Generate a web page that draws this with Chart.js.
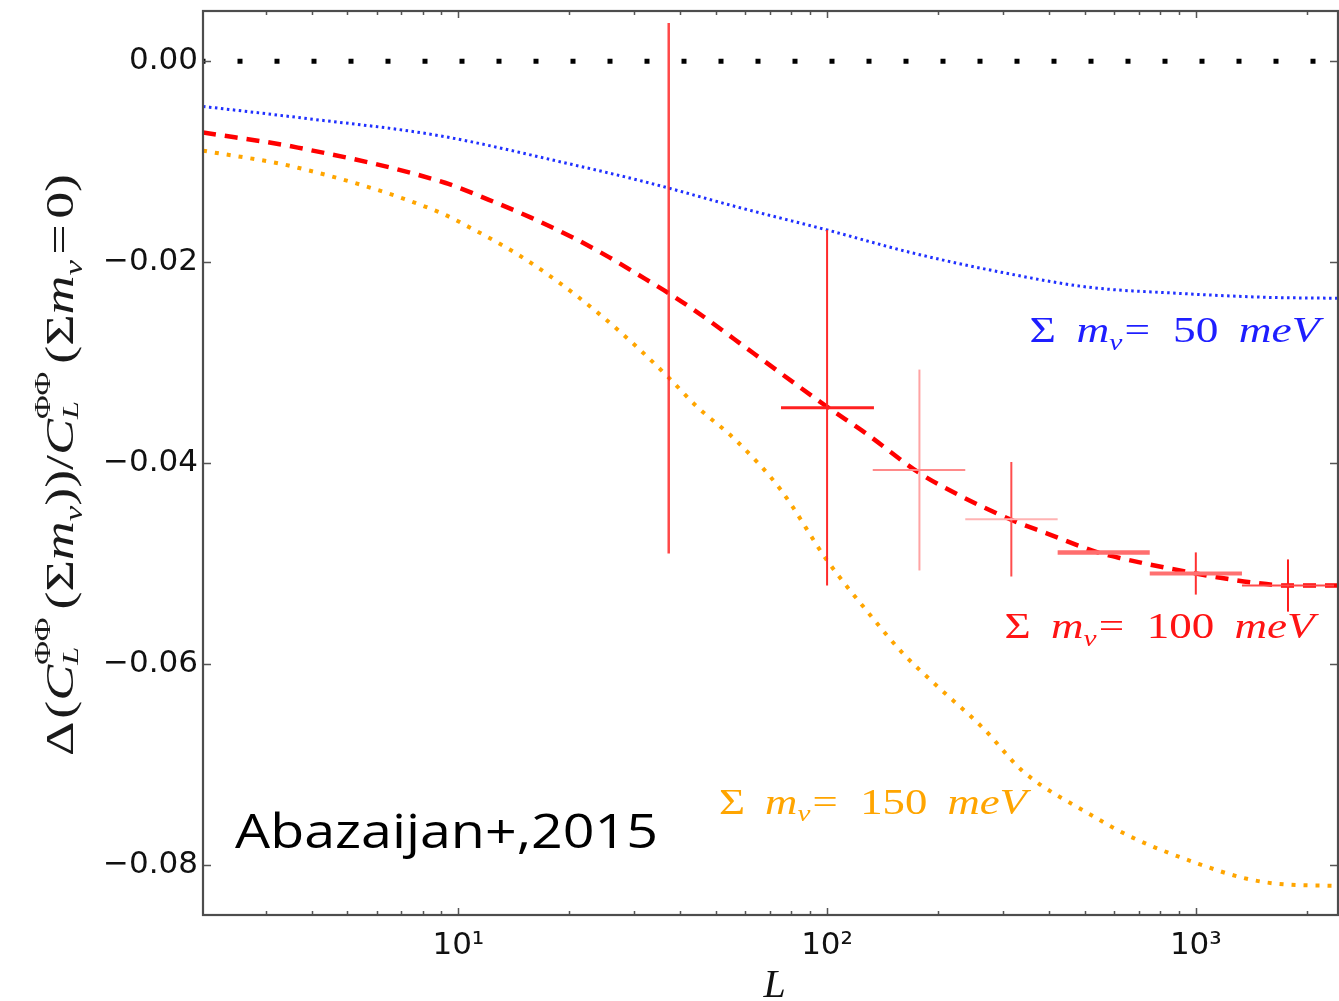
<!DOCTYPE html>
<html>
<head>
<meta charset="utf-8">
<script src="https://cdn.jsdelivr.net/npm/chart.js@4/dist/chart.umd.min.js"></script>
<style>
  html, body { margin: 0; padding: 0; background: #fff; overflow: hidden; }
  #wrap { width: 1339px; height: 1001px; }
</style>
</head>
<body>
<div id="wrap"><canvas id="c" width="1339" height="1001"></canvas></div>
<script>
// Multipole range shown on the log axis
const L_MIN = 2.03;
const L_MAX = 2430;

// Reference line: no change relative to massless neutrinos
const refL = [L_MIN, L_MAX];
const refV = [0, 0];

// Fractional change of the lensing power spectrum, sum of masses = 50 meV
const ell50 = [2.03, 3.67, 8.83, 19.9, 32.8, 56.9, 100, 171, 296, 512, 887, 1540, 2430];
const d50   = [-0.0045, -0.0056, -0.0074, -0.0102, -0.0121, -0.0145, -0.0168, -0.0191, -0.0210, -0.0225, -0.0231, -0.0235, -0.0236];

// sum of masses = 100 meV
const ell100 = [2.03, 3.67, 9.2, 12.1, 15.8, 20.3, 25.6, 32.2, 37.2, 44.1, 63.3, 100, 128, 178, 228, 318, 394, 542, 630, 1000, 1429, 1770, 2430];
const d100   = [-0.0071, -0.0086, -0.0121, -0.0138, -0.0156, -0.0175, -0.0195, -0.0217, -0.0231, -0.0249, -0.0291, -0.0344, -0.0371, -0.0410, -0.0432, -0.0457, -0.0470, -0.0489, -0.0495, -0.0510, -0.0519, -0.0522, -0.0522];

// sum of masses = 150 meV
const ell150 = [2.03, 3.67, 8.83, 10.8, 14.3, 18.7, 24.0, 30.8, 37.2, 44.1, 56.8, 75, 100, 130, 161, 196, 265, 340, 512, 674, 1017, 1343, 1671, 2430];
const d150   = [-0.0089, -0.0106, -0.0150, -0.0166, -0.0191, -0.0220, -0.0251, -0.0286, -0.0315, -0.0343, -0.0378, -0.0427, -0.0497, -0.0550, -0.0590, -0.0620, -0.0664, -0.0707, -0.0749, -0.0773, -0.0799, -0.0813, -0.0819, -0.0821];

// Forecast band powers (100 meV): centre, value, 1-sigma error, bin edges
const binL   = [37.2, 100, 178, 316, 562, 1000, 1778];
const binV   = [-0.0226, -0.0345, -0.0407, -0.0456, -0.0489, -0.0510, -0.0522];
const binErr = [0.0264, 0.0177, 0.0100, 0.0057, 0, 0.0021, 0.0026];
const binLo  = [null, 75, 133, 237, 422, 750, 1334];
const binHi  = [null, 134, 237, 422, 750, 1334, 2371];

// Axis ticks
const xMajor = [10, 100, 1000];
const yMajor = [-0.08, -0.06, -0.04, -0.02, 0];

// Curve labels
const massValues = ['50', '100', '150'];
const creditText = 'Abazaijan+,2015';

// ---- styling ----
const bandStyle = [
  { v: 'rgba(255,40,40,0.85)', vw: 2.5, h: null,      hw: 0 },
  { v: '#ff2a2a',              vw: 2,   h: '#ff2020', hw: 3 },
  { v: '#ffa3a3',              vw: 2,   h: '#ff8a8a', hw: 2 },
  { v: '#ff4d4d',              vw: 2,   h: '#ffb3b3', hw: 2 },
  { v: '#ff6a6a',              vw: 2,   h: '#ff6e6e', hw: 4.5 },
  { v: '#ff3030',              vw: 2,   h: '#ff7070', hw: 4 },
  { v: '#ff1a1a',              vw: 2,   h: '#ff4a4a', hw: 2 }
];

function pts(xs, ys) { return xs.map((x, i) => ({ x, y: ys[i] })); }

function curve(xs, ys, color, width, dash, offset) {
  return {
    data: pts(xs, ys), showLine: true, borderColor: color, borderWidth: width,
    borderDash: dash, borderDashOffset: offset || 0, borderCapStyle: 'butt',
    pointRadius: 0, fill: false, cubicInterpolationMode: 'monotone'
  };
}

const datasets = [];
// error bars of the band powers
binL.forEach((l, i) => {
  const s = bandStyle[i];
  if (binLo[i] !== null) {
    datasets.push({
      data: [{ x: binLo[i], y: binV[i] }, { x: binHi[i], y: binV[i] }],
      showLine: true, borderColor: s.h, borderWidth: s.hw, pointRadius: 0, tension: 0
    });
  }
  if (binErr[i] > 0) {
    datasets.push({
      data: [{ x: l, y: binV[i] - binErr[i] }, { x: l, y: binV[i] + binErr[i] }],
      showLine: true, borderColor: s.v, borderWidth: s.vw, pointRadius: 0, tension: 0
    });
  }
});
datasets.push(curve(refL, refV, '#000000', 5, [5, 32], 2.5));
datasets.push(curve(ell50, d50, '#2030ff', 3, [2.5, 3.5]));
datasets.push(curve(ell150, d150, '#ffa500', 4, [4, 8]));
datasets.push(curve(ell100, d100, '#ff0000', 4.5, [13, 9]));

// ---- rich text (sub/superscripts, italics) drawn on the canvas ----
function richLayout(ctx, parts, size, family) {
  const items = []; let x = 0;
  const font = (s, it) => `${it ? 'italic ' : ''}${s}px "${family}"`;
  for (const p of parts) {
    x += (p.dx || 0) * size;
    if (p.stack) {
      const s = size * 0.6;
      const f1 = font(s, false), f2 = font(s, true);
      ctx.font = f1; const w1 = ctx.measureText(p.stack[0]).width;
      ctx.font = f2; const w2 = ctx.measureText(p.stack[1]).width;
      items.push({ t: p.stack[0], x, dy: -0.58 * size, f: f1 });
      items.push({ t: p.stack[1], x, dy: 0.12 * size, f: f2 });
      x += Math.max(w1, w2);
    } else {
      const s = p.pos ? size * 0.65 : size;
      const f = font(s, !!p.i);
      ctx.font = f;
      const dy = p.pos === 'sub' ? 0.22 * size : (p.pos === 'sup' ? -0.45 * size : 0);
      items.push({ t: p.t, x, dy, f });
      x += ctx.measureText(p.t).width;
    }
  }
  return { items, width: x };
}

function richDraw(ctx, parts, o) {
  const lay = richLayout(ctx, parts, o.size, o.family);
  const hs = o.width ? o.width / lay.width : 1;
  ctx.save();
  ctx.translate(o.x, o.y);
  if (o.rotate) ctx.rotate(o.rotate);
  ctx.scale(hs, 1);
  const x0 = o.align === 'center' ? -lay.width / 2 : 0;
  ctx.fillStyle = o.color;
  ctx.textBaseline = 'alphabetic';
  ctx.textAlign = 'left';
  for (const it of lay.items) { ctx.font = it.f; ctx.fillText(it.t, x0 + it.x, it.dy); }
  ctx.restore();
}

const massParts = m => [
  { t: 'Σ' }, { t: 'm', i: 1, dx: 0.45 }, { t: 'ν', i: 1, pos: 'sub' },
  { t: '=', dx: 0.05 }, { t: m, dx: 0.5 }, { t: 'meV', i: 1, dx: 0.45 }
];

const yTitleParts = [
  { t: 'Δ' }, { t: '(', dx: 0.05 }, { t: 'C', i: 1 }, { stack: ['ΦΦ', 'L'] },
  { t: '(', dx: 0.15 }, { t: 'Σ' }, { t: 'm', i: 1 }, { t: 'ν', i: 1, pos: 'sub' },
  { t: ')' }, { t: ')' }, { t: '/' }, { t: 'C', i: 1 }, { stack: ['ΦΦ', 'L'] },
  { t: '(', dx: 0.15 }, { t: 'Σ' }, { t: 'm', i: 1 }, { t: 'ν', i: 1, pos: 'sub' },
  { t: '=', dx: 0.1 }, { t: '0', dx: 0.1 }, { t: ')' }
];

// label anchors (left end of text, baseline) in data units
const labelAnchors = [
  { L: 354, v: -0.0280, color: '#1e1eff', width: 290 },
  { L: 303, v: -0.0574, color: '#ff1414', width: 310 },
  { L: 50.9, v: -0.0749, color: '#ffa500', width: 308 }
];

const decorations = {
  id: 'decorations',
  afterDatasetsDraw(chart) {
    const { ctx, chartArea: a, scales: { x, y } } = chart;
    ctx.save();
    // inward ticks on all four sides
    ctx.strokeStyle = '#555';
    ctx.lineWidth = 1.5;
    ctx.beginPath();
    for (let d = 1; d <= 1000; d *= 10) {
      for (let k = 1; k <= 9; k++) {
        const v = k * d;
        if (v < L_MIN || v > L_MAX) continue;
        const px = Math.round(x.getPixelForValue(v)) + 0.5;
        const len = k === 1 ? 7 : 4;
        ctx.moveTo(px, a.bottom); ctx.lineTo(px, a.bottom - len);
        ctx.moveTo(px, a.top); ctx.lineTo(px, a.top + len);
      }
    }
    yMajor.forEach(v => {
      const py = Math.round(y.getPixelForValue(v)) + 0.5;
      ctx.moveTo(a.left, py); ctx.lineTo(a.left + 8, py);
      ctx.moveTo(a.right, py); ctx.lineTo(a.right - 8, py);
    });
    ctx.stroke();
    // frame
    ctx.strokeStyle = '#4d4d4d';
    ctx.lineWidth = 2.2;
    ctx.strokeRect(a.left, a.top, a.right - a.left, a.bottom - a.top);

    // curve labels
    labelAnchors.forEach((lab, i) => {
      richDraw(ctx, massParts(massValues[i]), {
        x: x.getPixelForValue(lab.L), y: y.getPixelForValue(lab.v),
        size: 36, family: 'Liberation Serif', color: lab.color, width: lab.width
      });
    });

    // credit
    ctx.fillStyle = '#000';
    ctx.font = '48px "Open Sans"';
    ctx.textBaseline = 'alphabetic';
    ctx.textAlign = 'left';
    const cw = ctx.measureText(creditText).width;
    ctx.save();
    ctx.translate(x.getPixelForValue(2.48), y.getPixelForValue(-0.0783));
    ctx.scale(423 / cw, 1);
    ctx.fillText(creditText, 0, 0);
    ctx.restore();

    // axis titles
    ctx.fillStyle = '#111';
    ctx.font = 'italic 40px "Liberation Serif"';
    ctx.textAlign = 'center';
    ctx.fillText('L', (a.left + a.right) / 2 + 4, 997);
    richDraw(ctx, yTitleParts, {
      x: 73, y: 465, size: 39, family: 'Liberation Serif',
      color: '#1a1a1a', width: 582, align: 'center', rotate: -Math.PI / 2
    });
    ctx.restore();
  }
};

const SUP = { 1: '¹', 2: '²', 3: '³' };

function noScalePadding(s) {
  s.paddingTop = 0; s.paddingBottom = 0; s.paddingLeft = 0; s.paddingRight = 0;
}

new Chart(document.getElementById('c'), {
  type: 'scatter',
  data: { datasets },
  options: {
    responsive: false,
    animation: false,
    devicePixelRatio: 1,
    layout: { padding: { top: 11, right: 1, left: 0, bottom: 0 } },
    plugins: { legend: { display: false }, tooltip: { enabled: false } },
    scales: {
      x: {
        type: 'logarithmic', position: 'bottom', min: L_MIN, max: L_MAX,
        grid: { display: false, drawTicks: false }, border: { display: false },
        afterBuildTicks: s => { s.ticks = xMajor.map(v => ({ value: v })); },
        afterFit: s => { s.height = 86; noScalePadding(s); },
        ticks: {
          padding: 12, color: '#111', maxRotation: 0, autoSkip: false,
          font: { family: 'DejaVu Sans', size: 31 },
          callback: v => '10' + SUP[Math.round(Math.log10(v))]
        }
      },
      y: {
        type: 'linear', min: -0.085, max: 0.005,
        grid: { display: false, drawTicks: false }, border: { display: false },
        afterBuildTicks: s => { s.ticks = yMajor.map(v => ({ value: v })); },
        afterFit: s => { s.width = 203; noScalePadding(s); },
        ticks: {
          padding: 5, color: '#111',
          font: { family: 'DejaVu Sans', size: 31 },
          callback: v => (Math.abs(v) < 1e-9 ? '0.00' : '−' + Math.abs(v).toFixed(2))
        }
      }
    }
  },
  plugins: [decorations]
});
</script>
</body>
</html>
